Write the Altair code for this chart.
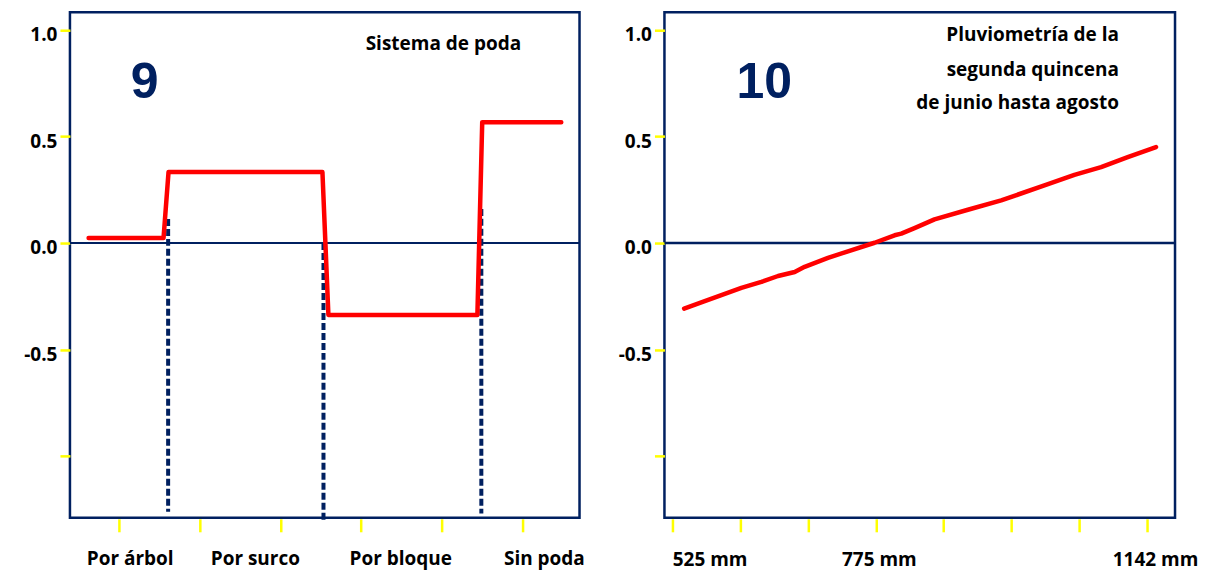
import altair as alt
import pandas as pd

NAVY = "#002060"
RED = "#ff0000"
YEL = "#ffff00"
FONT = "Open Sans"

# ---------------- data: panel 9 (Sistema de poda) ----------------
step_x = [0.625, 1.553, 1.615, 3.521, 3.595, 5.44, 5.50, 6.479]
step_y = [0.023, 0.023, 0.333, 0.333, -0.338, -0.338, 0.567, 0.567]
cut_x = [1.61, 3.534, 5.489]
cut_top = [0.113, 0.0, 0.16]
cut_bottom = [-1.261, -1.299, -1.27]
left_ticks = [1, 2, 3, 4, 5, 6]
left_cats = ["Por árbol", "Por surco", "Por bloque", "Sin poda"]
left_cat_pos = [1.14, 2.69, 4.49, 6.27]

# ---------------- data: panel 10 (Pluviometría) ----------------
rain_mm = [540.2, 567.0, 588.6, 614.6, 640.6, 662.3, 683.9, 696.9, 727.2, 753.2,
           787.8, 813.8, 822.5, 839.7, 865.7, 909.1, 952.4, 1008.6, 1047.6,
           1082.3, 1116.9, 1153.7]
rain_eff = [-0.308, -0.273, -0.245, -0.211, -0.183, -0.155, -0.136, -0.112, -0.070,
            -0.039, 0.001, 0.036, 0.044, 0.070, 0.111, 0.156, 0.200, 0.270, 0.320,
            0.356, 0.403, 0.450]
right_ticks = [525, 613.1, 701.3, 789.4, 877.6, 965.7, 1053.9, 1142]
right_labels = ["525 mm", "775 mm", "1142 mm"]
right_label_pos = [574, 794, 1153]

y_ticks = [-1.0, -0.5, 0.0, 0.5, 1.0]
Y_DOMAIN = [-1.29, 1.083]

W_L, W_R, H = 510, 511, 506

yscale = alt.Scale(domain=Y_DOMAIN, nice=False, zero=False)
yaxis = alt.Axis(
    values=y_ticks, title=None, grid=False, domain=False,
    tickColor=YEL, tickSize=10, tickWidth=2.5,
    labelExpr="datum.value == -1 ? '' : (datum.value < 0 ? '-' + format(-datum.value, '.1f') : format(datum.value, '.1f'))",
    labelFont=FONT, labelFontWeight="bold", labelFontSize=19, labelColor="black",
    labelPadding=3, labelOffset=5, minExtent=55, maxExtent=55,
)


def xaxis(ticks):
    return alt.Axis(values=ticks, labels=False, title=None, grid=False, domain=False,
                    tickColor=YEL, tickSize=13, tickWidth=2.5, offset=1)


# ---------- left panel ----------
xs_l = alt.Scale(domain=[0.394, 6.705], nice=False, zero=False)
df_step = pd.DataFrame({"x": step_x, "y": step_y})
df_cut = pd.DataFrame({"x": cut_x, "y": cut_top, "y2": cut_bottom})
df_lcat = pd.DataFrame({"x": left_cat_pos, "t": left_cats})
XL = alt.X("x:Q", scale=xs_l, axis=xaxis(left_ticks))
YY = alt.Y("y:Q", scale=yscale, axis=yaxis)

zero_l = alt.Chart(pd.DataFrame({"y": [0.0]})).mark_rule(color=NAVY, strokeWidth=2).encode(y=YY)
cuts = alt.Chart(df_cut).mark_rule(color=NAVY, strokeWidth=4, strokeDash=[7, 3]).encode(
    x=XL, y=YY, y2="y2:Q")
step = alt.Chart(df_step).mark_line(color=RED, strokeWidth=4.5, strokeCap="round",
                                    strokeJoin="round").encode(x=XL, y=YY)
lcat = alt.Chart(df_lcat).mark_text(font=FONT, fontWeight="bold", fontSize=19,
                                    color="black", baseline="middle").encode(
    x=XL, y=alt.value(547), text="t:N")
df_9 = pd.DataFrame({"x": [1.318], "y": [0.68], "t": ["9"]})
big9 = alt.Chart(df_9).mark_text(font="Liberation Sans", fontWeight="bold",
                                 fontSize=50, color=NAVY, baseline="alphabetic").encode(
    x=XL, y=YY, text="t:N")
df_tl = pd.DataFrame({"x": [5.019], "y": [0.933], "t": ["Sistema de poda"]})
ttl_l = alt.Chart(df_tl).mark_text(font=FONT, fontWeight="bold", fontSize=19,
                                   color="black", baseline="middle").encode(
    x=XL, y=YY, text="t:N")

left = alt.layer(zero_l, cuts, step, lcat, big9, ttl_l).properties(width=W_L, height=H)

# ---------- right panel ----------
xs_r = alt.Scale(domain=[514.6, 1178.4], nice=False, zero=False)
df_rain = pd.DataFrame({"x": rain_mm, "y": rain_eff})
df_rlab = pd.DataFrame({"x": right_label_pos, "t": right_labels})
XR = alt.X("x:Q", scale=xs_r, axis=xaxis(right_ticks))

zero_r = alt.Chart(pd.DataFrame({"y": [0.0]})).mark_rule(color=NAVY, strokeWidth=2.5).encode(y=YY)
rain = alt.Chart(df_rain).mark_line(color=RED, strokeWidth=4.5, strokeCap="round",
                                    strokeJoin="round").encode(x=XR, y=YY)
rlab = alt.Chart(df_rlab).mark_text(font=FONT, fontWeight="bold", fontSize=19,
                                    color="black", baseline="middle").encode(
    x=XR, y=alt.value(548), text="t:N")
df_10 = pd.DataFrame({"x": [644.5], "y": [0.68], "t": ["10"]})
big10 = alt.Chart(df_10).mark_text(font="Liberation Sans", fontWeight="bold",
                                   fontSize=50, color=NAVY, baseline="alphabetic").encode(
    x=XR, y=YY, text="t:N")
df_t2 = pd.DataFrame({"x": [1105.5] * 3, "y": [0.975, 0.811, 0.656],
                      "t": ["Pluviometría de la", "segunda quincena", "de junio hasta agosto"]})
ttl_r = alt.Chart(df_t2).mark_text(font=FONT, fontWeight="bold", fontSize=19,
                                   color="black", align="right", baseline="middle").encode(
    x=XR, y=YY, text="t:N")

right = alt.layer(zero_r, rain, rlab, big10, ttl_r).properties(width=W_R, height=H)

chart = alt.hconcat(left, right, spacing=85, bounds="flush").properties(
    padding={"left": 5, "top": 2, "right": 0, "bottom": 0},
    background="white",
).configure_view(stroke=NAVY, strokeWidth=2.5)

chart.save("out.html", embed_options={"renderer": "svg", "actions": False})
